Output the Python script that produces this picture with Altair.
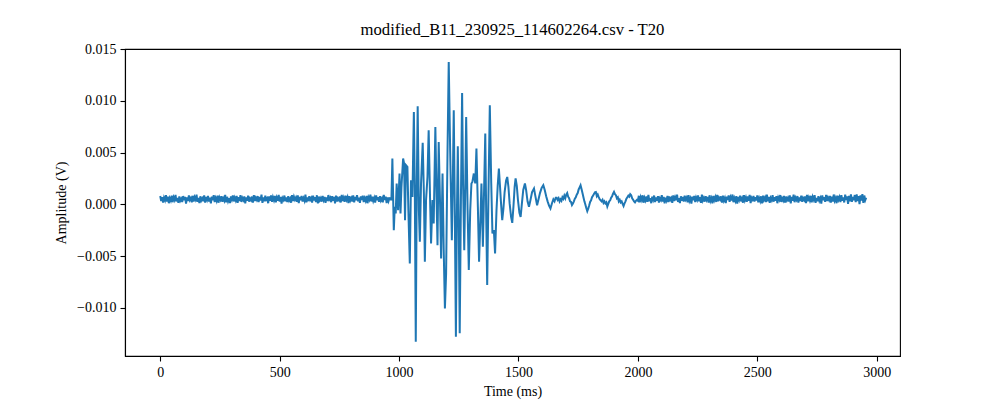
import altair as alt
import pandas as pd

TITLE = "modified_B11_230925_114602264.csv - T20"
X_TICKS = [0, 500, 1000, 1500, 2000, 2500, 3000]
Y_TICKS = [-0.010, -0.005, 0.000, 0.005, 0.010, 0.015]

# quiet lead-in, sampled every 4 ms from 0 ms
pre_step = 4
pre_noise = [
    0.00082, 0.00034, 0.00071, 0.00018, 0.00066, 0.00041, 0.00089, 0.00027, 0.00075, 0.00012, 0.00060, 0.00038,
    0.00086, 0.00022, 0.00069, 0.00045, 0.00092, 0.00030, 0.00063, 0.00016, 0.00078, 0.00036, 0.00055, 0.00024,
    0.00081, 0.00040, 0.00073, 0.00009, 0.00067, 0.00033, 0.00088, 0.00043, 0.00061, 0.00020, 0.00084, 0.00029,
    0.00070, 0.00047, 0.00094, 0.00025, 0.00064, 0.00014, 0.00079, 0.00039, 0.00058, 0.00031, 0.00087, 0.00019,
    0.00072, 0.00044, 0.00083, 0.00028, 0.00065, 0.00011, 0.00076, 0.00042, 0.00090, 0.00023, 0.00062, 0.00035,
    0.00085, 0.00017, 0.00068, 0.00046, 0.00080, 0.00026, 0.00059, 0.00037, 0.00093, 0.00021, 0.00074, 0.00032,
    0.00061, 0.00013, 0.00077, 0.00048, 0.00087, 0.00029, 0.00066, 0.00040, 0.00082, 0.00015, 0.00070, 0.00034,
    0.00091, 0.00024, 0.00063, 0.00043, 0.00078, 0.00010, 0.00069, 0.00036, 0.00085, 0.00027, 0.00057, 0.00041,
    0.00076, 0.00019, 0.00089, 0.00033, 0.00064, 0.00045, 0.00081, 0.00022, 0.00072, 0.00038, 0.00095, 0.00016,
    0.00067, 0.00030, 0.00084, 0.00047, 0.00060, 0.00012, 0.00079, 0.00035, 0.00088, 0.00025, 0.00071, 0.00042,
    0.00083, 0.00020, 0.00065, 0.00037, 0.00092, 0.00028, 0.00074, 0.00008, 0.00062, 0.00044, 0.00086, 0.00031,
    0.00069, 0.00023, 0.00080, 0.00039, 0.00058, 0.00017, 0.00090, 0.00034, 0.00075, 0.00046, 0.00066, 0.00026,
    0.00087, 0.00014, 0.00073, 0.00041, 0.00082, 0.00029, 0.00061, 0.00036, 0.00094, 0.00021, 0.00068, 0.00032,
    0.00079, 0.00045, 0.00063, 0.00018, 0.00085, 0.00038, 0.00070, 0.00024, 0.00089, 0.00011, 0.00076, 0.00040,
    0.00060, 0.00027, 0.00083, 0.00043, 0.00072, 0.00015, 0.00067, 0.00033, 0.00091, 0.00048, 0.00064, 0.00022,
    0.00081, 0.00037, 0.00074, 0.00010, 0.00086, 0.00030, 0.00059, 0.00042, 0.00078, 0.00019, 0.00093, 0.00035,
    0.00065, 0.00025, 0.00084, 0.00046, 0.00071, 0.00013, 0.00080, 0.00039, 0.00062, 0.00028, 0.00088, 0.00020,
    0.00073, 0.00041, 0.00090, 0.00031, 0.00066, 0.00016, 0.00077, 0.00044, 0.00085, 0.00023, 0.00061, 0.00036,
    0.00082, 0.00012, 0.00069, 0.00047, 0.00094, 0.00029, 0.00075, 0.00034, 0.00063, 0.00018, 0.00087, 0.00040,
    0.00070, 0.00026, 0.00079, 0.00038, 0.00058, 0.00021, 0.00092, 0.00043, 0.00076, 0.00014, 0.00067, 0.00032,
    0.00060,
]

# the burst (time ms, amplitude V)
burst = [
    (964, 0.00058), (968, 0.00040), (972, 0.00444), (978, -0.00248), (982, -0.00023),
    (986, -0.00087), (990, 0.00203), (996, -0.00055), (1002, 0.00299), (1006, -0.00087),
    (1010, 0.00170), (1017, 0.00444), (1021, 0.00396), (1025, -0.00152), (1029, 0.00379),
    (1035, 0.00363), (1039, -0.00055), (1045, -0.00570), (1050, 0.00235), (1056, 0.00073),
    (1062, 0.00894), (1066, 0.00138), (1070, -0.01326), (1074, 0.00138), (1078, 0.00949),
    (1083, -0.00055), (1087, -0.00361), (1092, 0.00203), (1099, 0.00595), (1104, 0.00106),
    (1108, -0.00554), (1113, 0.00042), (1119, 0.00266), (1124, 0.00717), (1130, 0.00042),
    (1134, -0.00376), (1140, 0.00042), (1145, -0.00183), (1152, 0.00749), (1157, 0.00073),
    (1161, -0.00393), (1166, 0.00604), (1172, -0.00023), (1176, -0.00521), (1182, 0.00299),
    (1187, -0.00441), (1192, -0.01004), (1197, -0.00666), (1203, 0.00524), (1208, 0.01376),
    (1214, 0.00524), (1221, -0.00345), (1225, 0.00203), (1229, 0.00910), (1233, 0.00042),
    (1238, -0.01278), (1242, -0.00120), (1246, 0.00563), (1250, -0.00183), (1254, -0.01245),
    (1259, 0.00042), (1264, 0.01077), (1268, 0.00203), (1273, -0.00441), (1277, 0.00138),
    (1281, 0.00846), (1287, -0.00055), (1292, -0.00634), (1298, -0.00055), (1303, 0.00203),
    (1307, 0.00218), (1313, 0.00299), (1319, 0.00203), (1324, 0.00541), (1330, -0.00023),
    (1335, -0.00554), (1341, -0.00120), (1345, 0.00203), (1351, -0.00409), (1356, 0.00138),
    (1361, 0.00685), (1365, -0.00120), (1369, -0.00779), (1375, 0.00203), (1380, 0.00958),
    (1386, 0.00203), (1391, -0.00280), (1397, -0.00248), (1402, -0.00473), (1408, -0.00055),
]

# decaying ring-down after the burst (time ms, amplitude V)
ring = [
    (1413, 0.00180), (1418, 0.00347), (1422, 0.00200), (1427, 0.00010), (1432, -0.00152),
    (1437, -0.00040), (1442, 0.00120), (1448, 0.00230), (1453, 0.00266), (1458, 0.00170),
    (1463, 0.00010), (1469, -0.00120), (1474, -0.00178), (1479, -0.00020), (1484, 0.00170),
    (1488, 0.00251), (1493, 0.00180), (1498, 0.00040), (1504, -0.00080), (1509, -0.00120),
    (1514, 0.00000), (1520, 0.00140), (1527, 0.00203), (1532, 0.00140), (1538, 0.00030),
    (1544, -0.00023), (1550, 0.00040), (1557, 0.00120), (1565, 0.00154), (1570, 0.00090),
    (1578, -0.00007), (1584, 0.00050), (1590, 0.00110), (1597, 0.00160), (1604, 0.00186),
    (1610, 0.00140), (1616, 0.00080), (1622, 0.00030), (1628, -0.00010), (1634, -0.00039),
    (1640, 0.00010), (1646, 0.00050), (1651, 0.00030), (1656, 0.00065),
]

# coda, sampled every 4 ms from 1660 ms
coda_start = 1660
coda_step = 4
coda = [
    0.00065, 0.00045, 0.00060, 0.00030, 0.00050, 0.00035, 0.00070, 0.00055, 0.00085, 0.00060,
    0.00095, 0.00110, 0.00075, 0.00060, 0.00030, 0.00025, -0.00005, 0.00010, 0.00030, 0.00055,
    0.00070, 0.00095, 0.00110, 0.00145, 0.00165, 0.00186, 0.00150, 0.00110, 0.00070, 0.00030,
    0.00000, -0.00035, -0.00065, -0.00040, -0.00010, 0.00025, 0.00040, 0.00070, 0.00085, 0.00100,
    0.00118, 0.00120, 0.00080, 0.00095, 0.00070, 0.00050, 0.00040, 0.00030, 0.00045, 0.00015,
    0.00030, 0.00010, 0.00020, -0.00020, 0.00005, 0.00030, 0.00040, 0.00065, 0.00080, 0.00105,
    0.00122, 0.00100, 0.00090, 0.00060, 0.00070, 0.00030, 0.00045, 0.00020, 0.00030, 0.00005,
    -0.00015, 0.00010, 0.00030, 0.00055, 0.00070, 0.00085, 0.00075, 0.00100, 0.00090, 0.00060,
    0.00045, 0.00030, 0.00020, 0.00035, 0.00045,
]

# quiet tail, sampled every 4 ms from 2000 ms
post_start = 2000
post_step = 4
post_noise = [
    0.00036, 0.00084, 0.00021, 0.00070, 0.00043, 0.00089, 0.00017, 0.00064, 0.00039, 0.00078, 0.00026, 0.00093,
    0.00031, 0.00061, 0.00012, 0.00075, 0.00046, 0.00086, 0.00024, 0.00068, 0.00035, 0.00081, 0.00019, 0.00059,
    0.00042, 0.00090, 0.00028, 0.00072, 0.00010, 0.00065, 0.00038, 0.00083, 0.00022, 0.00077, 0.00045, 0.00062,
    0.00016, 0.00088, 0.00033, 0.00069, 0.00041, 0.00095, 0.00025, 0.00060, 0.00014, 0.00079, 0.00037, 0.00073,
    0.00029, 0.00085, 0.00047, 0.00066, 0.00020, 0.00091, 0.00034, 0.00058, 0.00009, 0.00076, 0.00040, 0.00082,
    0.00023, 0.00067, 0.00044, 0.00087, 0.00030, 0.00071, 0.00015, 0.00094, 0.00039, 0.00063, 0.00027, 0.00080,
    0.00046, 0.00074, 0.00018, 0.00089, 0.00035, 0.00060, 0.00011, 0.00083, 0.00042, 0.00070, 0.00024, 0.00092,
    0.00032, 0.00065, 0.00048, 0.00078, 0.00019, 0.00086, 0.00037, 0.00062, 0.00013, 0.00075, 0.00043, 0.00088,
    0.00026, 0.00069, 0.00040, 0.00096, 0.00022, 0.00061, 0.00034, 0.00081, 0.00008, 0.00073, 0.00045, 0.00084,
    0.00030, 0.00058, 0.00017, 0.00090, 0.00041, 0.00068, 0.00025, 0.00077, 0.00036, 0.00093, 0.00014, 0.00064,
    0.00047, 0.00082, 0.00028, 0.00071, 0.00039, 0.00087, 0.00020, 0.00060, 0.00033, 0.00079, 0.00011, 0.00085,
    0.00044, 0.00066, 0.00023, 0.00094, 0.00031, 0.00074, 0.00016, 0.00063, 0.00042, 0.00089, 0.00027, 0.00070,
    0.00035, 0.00080, 0.00012, 0.00067, 0.00046, 0.00091, 0.00024, 0.00059, 0.00038, 0.00083, 0.00019, 0.00076,
    0.00041, 0.00062, 0.00029, 0.00088, 0.00010, 0.00072, 0.00037, 0.00095, 0.00022, 0.00065, 0.00045, 0.00081,
    0.00018, 0.00069, 0.00034, 0.00086, 0.00026, 0.00061, 0.00043, 0.00078, 0.00013, 0.00092, 0.00032, 0.00067,
    0.00039, 0.00084, 0.00021, 0.00073, 0.00047, 0.00090, 0.00015, 0.00064, 0.00030, 0.00079, 0.00036, 0.00060,
    0.00009, 0.00087, 0.00040, 0.00070, 0.00025, 0.00093, 0.00033, 0.00066, 0.00044, 0.00082, 0.00017, 0.00075,
    0.00028, 0.00096, 0.00038, 0.00063, 0.00012, 0.00085, 0.00046, 0.00071, 0.00023, 0.00089, 0.00035, 0.00068,
    0.00019, 0.00094, 0.00042, 0.00077, 0.00006, 0.00083, 0.00031, 0.00098, 0.00026, 0.00072, 0.00040, 0.00091,
    0.00022, 0.00097, 0.00034, 0.00080, 0.00004, 0.00088, 0.00037, 0.00099, 0.00015, 0.00086, 0.00041, 0.00065,
]

t_all, v_all = [], []
for i, v in enumerate(pre_noise):
    t_all.append(i * pre_step); v_all.append(v)
for t, v in burst + ring:
    t_all.append(t); v_all.append(v)
for i, v in enumerate(coda):
    t_all.append(coda_start + i * coda_step); v_all.append(v)
for i, v in enumerate(post_noise):
    t_all.append(post_start + i * post_step); v_all.append(v)

df = pd.DataFrame({"t": t_all, "v": v_all, "i": range(len(t_all))})

FONT = "Liberation Serif"

chart = alt.Chart(df).mark_line(color="#1f77b4", strokeWidth=2.0).encode(
    x=alt.X("t:Q", title="Time (ms)",
            scale=alt.Scale(domain=[-147.5, 3097.5], nice=False, zero=False),
            axis=alt.Axis(values=X_TICKS, format="d")),
    y=alt.Y("v:Q", title="Amplitude (V)",
            scale=alt.Scale(domain=[-0.01464, 0.01502], nice=False, zero=False),
            axis=alt.Axis(values=Y_TICKS,
                          labelExpr="replace(format(datum.value, '.3f'), '-', '\u2212')")),
    order="i:Q",
).properties(
    width=775, height=307,
    title=alt.TitleParams(TITLE, fontSize=16.7, font=FONT, fontWeight="normal",
                          anchor="middle", offset=4, color="black"),
    autosize=alt.AutoSizeParams(type="none"),
    padding={"left": 117, "top": 41, "right": 92, "bottom": 50},
).configure_view(
    stroke="black", strokeWidth=1.1
).configure_axis(
    grid=False, domainColor="black", domainWidth=1.1, tickColor="black", tickWidth=1.1,
    tickSize=5, labelPadding=4, labelFont=FONT, labelFontSize=14, labelColor="black",
    titleFont=FONT, titleFontSize=14, titleFontWeight="normal", titleColor="black",
).configure_axisX(titlePadding=5).configure_axisY(titlePadding=8)

chart.save("out.html", embed_options={"renderer": "svg", "actions": False})
